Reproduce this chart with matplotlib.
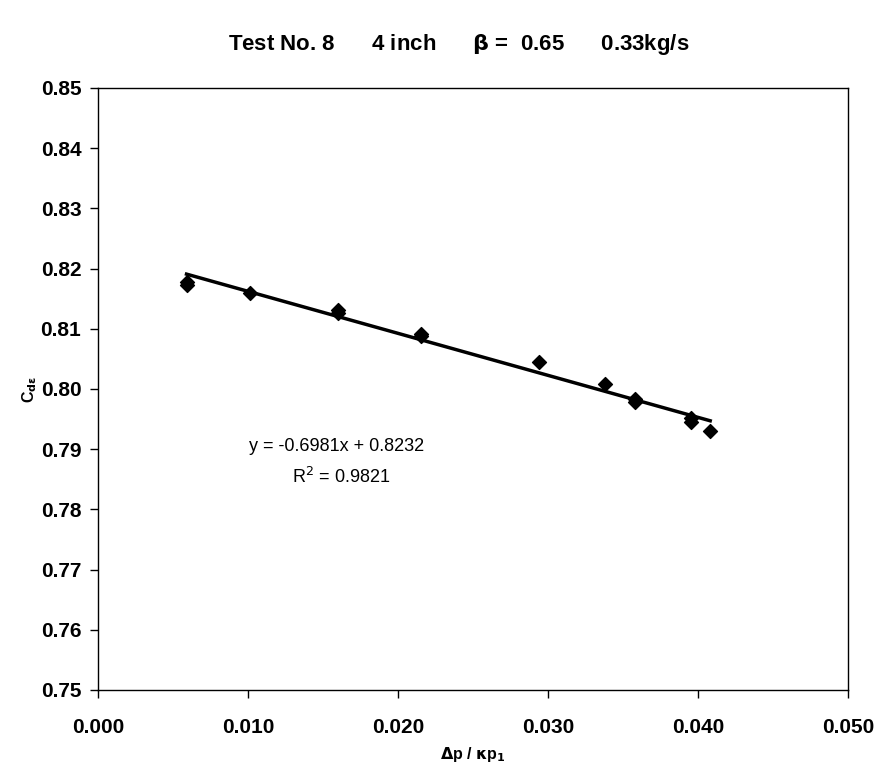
import matplotlib.pyplot as plt

plt.rcParams['font.family'] = ['Liberation Sans', 'DejaVu Sans']

# measured points (dp / kappa p1, C_d*eps)
dp_kp1 = [0.0059, 0.0059, 0.0101, 0.0160, 0.0160, 0.0215, 0.0215,
          0.0294, 0.0338, 0.0358, 0.0358, 0.0395, 0.0395, 0.0408]
cde = [0.8178, 0.8173, 0.8159, 0.8131, 0.8127, 0.8092, 0.8088,
       0.8044, 0.8009, 0.7983, 0.7978, 0.7951, 0.7945, 0.7930]

# linear trend from the chart
slope = -0.6981
intercept = 0.8232
r2 = 0.9821

xticks = [0.000, 0.010, 0.020, 0.030, 0.040, 0.050]
yticks = [0.75, 0.76, 0.77, 0.78, 0.79, 0.80, 0.81, 0.82, 0.83, 0.84, 0.85]

fig = plt.figure(figsize=(8.79, 7.8), dpi=100)
ax = fig.add_axes([0.1115, 0.1154, 0.8535, 0.7718])

ax.scatter(dp_kp1, cde, marker='D', s=50, color='black', zorder=3)

x0, x1 = min(dp_kp1), max(dp_kp1)
ax.plot([x0, x1], [slope * x0 + intercept, slope * x1 + intercept],
        color='black', lw=2.5, zorder=2)

ax.set_xlim(0, 0.05)
ax.set_ylim(0.75, 0.85)
ax.set_xticks(xticks)
ax.set_yticks(yticks)
ax.set_xticklabels(['%.3f' % t for t in xticks])
ax.set_yticklabels(['%.2f' % t for t in yticks])
ax.tick_params(direction='out', length=6, width=1, labelsize=15)
ax.tick_params(axis='x', pad=14)
ax.tick_params(axis='y', pad=6)
for lab in ax.get_xticklabels() + ax.get_yticklabels():
    lab.set_fontweight('bold')
for sp in ax.spines.values():
    sp.set_linewidth(1)

ax.set_xlabel(r'$\mathbf{\Delta}$p / $\mathbf{\kappa}$p$_\mathbf{1}$',
              fontsize=11.5, fontweight='bold', labelpad=6)
ax.set_ylabel(r'C$_{\mathbf{d\epsilon}}$', fontsize=11.5, fontweight='bold', labelpad=1)

ax.text(0.0159, 0.7904, 'y = %.4fx + %.4f' % (slope, intercept), fontsize=13,
        ha='center', va='center')
ax.text(0.0162, 0.7854, r'R$^2$ = %.4f' % r2, fontsize=13, ha='center', va='center')

fig.text(0.522, 0.943, r'Test No. 8      4 inch      $\mathbf{\beta}$ =  0.65      0.33kg/s',
         fontsize=16, fontweight='bold', ha='center', va='center')

fig.savefig('out.png', dpi=100)
